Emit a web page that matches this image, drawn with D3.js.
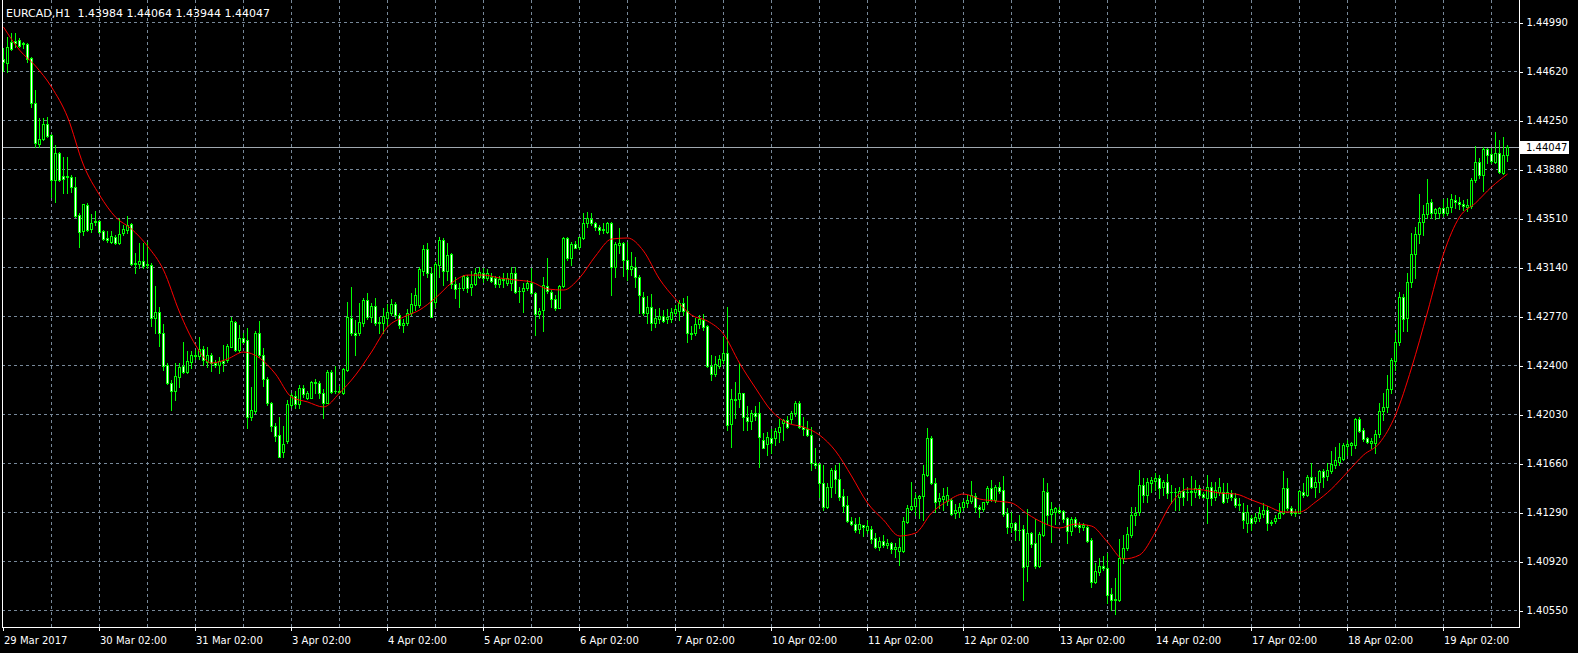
<!DOCTYPE html>
<html><head><meta charset="utf-8">
<script src="https://cdn.jsdelivr.net/npm/d3@7"></script>
<style>html,body{margin:0;padding:0;background:#000;overflow:hidden}svg{display:block}</style>
</head><body><svg id="c" width="1578" height="653"></svg>
<script>
const symbolTitle = "EURCAD,H1";
const openP = [
1.44710,1.44680,1.44839,1.44846,1.44854,1.44824,1.44824,1.44718,1.44378,1.44069,
1.44106,1.44220,1.44137,1.43797,1.44001,1.43827,1.43819,1.43819,1.43744,1.43533,
1.43412,1.43608,1.43427,1.43480,1.43487,1.43412,1.43359,1.43329,1.43366,1.43321,
1.43397,1.43419,1.43465,1.43162,1.43162,1.43185,1.43162,1.43155,1.42755,1.42800,
1.42642,1.42400,1.42264,1.42204,1.42309,1.42392,1.42347,1.42423,1.42475,1.42468,
1.42521,1.42423,1.42475,1.42415,1.42400,1.42430,1.42438,1.42536,1.42725,1.42513,
1.42604,1.42589,1.42007,1.42053,1.42642,1.42475,1.42294,1.42113,1.41939,1.41871,
1.41743,1.41826,1.42098,1.42166,1.42105,1.42226,1.42151,1.42151,1.42272,1.42264,
1.42188,1.42113,1.42347,1.42204,1.42204,1.42188,1.42362,1.42755,1.42642,1.42642,
1.42717,1.42891,1.42762,1.42845,1.42717,1.42717,1.42755,1.42793,1.42861,1.42777,
1.42702,1.42717,1.42793,1.42853,1.42853,1.43110,1.43276,1.43095,1.42876,1.43155,
1.43344,1.43110,1.43238,1.43012,1.42981,1.42981,1.43064,1.42989,1.43012,1.43064,
1.43095,1.43057,1.43064,1.43057,1.43012,1.43049,1.43019,1.43019,1.43095,1.42959,
1.42959,1.42981,1.43019,1.42944,1.42785,1.42815,1.42996,1.42951,1.42898,1.42830,
1.42996,1.43359,1.43208,1.43314,1.43291,1.43359,1.43472,1.43502,1.43472,1.43442,
1.43419,1.43404,1.43472,1.43140,1.43306,1.43321,1.43193,1.43125,1.43140,1.43064,
1.42913,1.42793,1.42838,1.42717,1.42747,1.42770,1.42747,1.42747,1.42793,1.42808,
1.42868,1.42808,1.42642,1.42642,1.42710,1.42740,1.42694,1.42392,1.42332,1.42392,
1.42438,1.42491,1.41954,1.42143,1.42143,1.42188,1.42007,1.41977,1.42037,1.42037,
1.41834,1.41803,1.41849,1.41849,1.41894,1.41962,1.41985,1.41992,1.42037,1.42113,
1.41932,1.41917,1.41871,1.41660,1.41652,1.41509,1.41328,1.41479,1.41607,1.41539,
1.41411,1.41343,1.41222,1.41199,1.41162,1.41192,1.41154,1.41162,1.41094,1.41026,
1.41071,1.41041,1.41056,1.41011,1.40995,1.40995,1.41214,1.41313,1.41335,1.41396,
1.41411,1.41569,1.41849,1.41509,1.41373,1.41388,1.41373,1.41381,1.41282,1.41290,
1.41328,1.41358,1.41373,1.41411,1.41328,1.41313,1.41365,1.41471,1.41381,1.41479,
1.41456,1.41282,1.41177,1.41207,1.41154,1.41162,1.40882,1.41131,1.41056,1.40882,
1.41116,1.41441,1.41275,1.41290,1.41305,1.41297,1.41245,1.41146,1.41237,1.41192,
1.41177,1.41177,1.41079,1.40761,1.40837,1.40882,1.40867,1.40671,1.40625,1.40625,
1.40943,1.41018,1.41116,1.41267,1.41290,1.41494,1.41418,1.41509,1.41524,1.41547,
1.41479,1.41516,1.41441,1.41441,1.41403,1.41448,1.41441,1.41441,1.41441,1.41471,
1.41426,1.41396,1.41479,1.41403,1.41441,1.41441,1.41396,1.41433,1.41396,1.41350,
1.41290,1.41207,1.41245,1.41222,1.41245,1.41275,1.41305,1.41214,1.41222,1.41245,
1.41282,1.41471,1.41320,1.41282,1.41282,1.41441,1.41418,1.41554,1.41479,1.41516,
1.41599,1.41562,1.41599,1.41645,1.41667,1.41690,1.41788,1.41796,1.41796,1.41992,
1.41909,1.41849,1.41811,1.41811,1.41879,1.42053,1.42083,1.42219,1.42430,1.42574,
1.42913,1.42755,1.43027,1.43238,1.43389,1.43480,1.43540,1.43631,1.43548,1.43548,
1.43585,1.43548,1.43593,1.43646,1.43631,1.43616,1.43593,1.43600,1.43797,1.43933,
1.43835,1.44031,1.43993,1.43933,1.44001,1.43850,1.43984
];
const highP = [
1.44794,1.44877,1.44907,1.44907,1.44869,1.44839,1.44831,1.44726,1.44476,1.44265,
1.44265,1.44273,1.44144,1.44061,1.44008,1.43971,1.43971,1.43835,1.43819,1.43548,
1.43616,1.43623,1.43540,1.43563,1.43495,1.43419,1.43412,1.43412,1.43382,1.43510,
1.43457,1.43525,1.43472,1.43246,1.43321,1.43321,1.43329,1.43170,1.42996,1.42838,
1.42710,1.42415,1.42287,1.42415,1.42415,1.42574,1.42506,1.42506,1.42513,1.42611,
1.42543,1.42536,1.42491,1.42438,1.42460,1.42551,1.42559,1.42762,1.42732,1.42702,
1.42642,1.42679,1.42234,1.42657,1.42732,1.42528,1.42309,1.42121,1.41962,1.42007,
1.41939,1.42136,1.42188,1.42204,1.42249,1.42249,1.42204,1.42279,1.42294,1.42279,
1.42219,1.42362,1.42362,1.42392,1.42241,1.42377,1.42876,1.42989,1.42740,1.42868,
1.42906,1.42944,1.42868,1.42906,1.42762,1.42830,1.42861,1.42898,1.42876,1.42793,
1.42747,1.42823,1.42944,1.42981,1.43140,1.43306,1.43321,1.43140,1.43178,1.43366,
1.43359,1.43321,1.43246,1.43064,1.43019,1.43079,1.43079,1.43110,1.43132,1.43140,
1.43132,1.43125,1.43095,1.43072,1.43072,1.43095,1.43095,1.43140,1.43140,1.42989,
1.43019,1.43042,1.43132,1.42951,1.42830,1.43064,1.43208,1.42966,1.42928,1.43004,
1.43366,1.43366,1.43329,1.43336,1.43366,1.43548,1.43555,1.43548,1.43480,1.43457,
1.43472,1.43480,1.43480,1.43329,1.43434,1.43329,1.43329,1.43253,1.43215,1.43079,
1.42951,1.42921,1.42936,1.42823,1.42830,1.42815,1.42823,1.42830,1.42853,1.42891,
1.42906,1.42921,1.42694,1.42755,1.42777,1.42785,1.42702,1.42475,1.42468,1.42475,
1.42611,1.42838,1.42219,1.42272,1.42415,1.42188,1.42090,1.42060,1.42090,1.42121,
1.41886,1.41894,1.41917,1.41924,1.41992,1.41992,1.42015,1.42053,1.42128,1.42128,
1.42007,1.41977,1.41932,1.41773,1.41660,1.41645,1.41509,1.41622,1.41645,1.41660,
1.41464,1.41411,1.41252,1.41245,1.41252,1.41192,1.41230,1.41184,1.41131,1.41101,
1.41116,1.41086,1.41063,1.41056,1.41094,1.41252,1.41343,1.41516,1.41433,1.41418,
1.41645,1.41924,1.41864,1.41547,1.41433,1.41471,1.41479,1.41396,1.41350,1.41358,
1.41381,1.41418,1.41524,1.41433,1.41343,1.41365,1.41486,1.41532,1.41494,1.41516,
1.41562,1.41320,1.41290,1.41214,1.41267,1.41192,1.41313,1.41139,1.41237,1.41139,
1.41547,1.41509,1.41365,1.41328,1.41328,1.41305,1.41252,1.41252,1.41252,1.41214,
1.41207,1.41192,1.41094,1.40905,1.40943,1.40958,1.40980,1.40716,1.40792,1.41086,
1.41116,1.41177,1.41328,1.41328,1.41607,1.41547,1.41547,1.41554,1.41584,1.41569,
1.41532,1.41577,1.41494,1.41471,1.41479,1.41547,1.41479,1.41562,1.41532,1.41494,
1.41441,1.41569,1.41516,1.41516,1.41547,1.41509,1.41509,1.41456,1.41433,1.41396,
1.41358,1.41343,1.41267,1.41282,1.41328,1.41358,1.41335,1.41230,1.41267,1.41358,
1.41599,1.41547,1.41335,1.41313,1.41456,1.41509,1.41569,1.41660,1.41554,1.41607,
1.41615,1.41660,1.41751,1.41781,1.41811,1.41811,1.41834,1.41819,1.42000,1.42007,
1.41924,1.41856,1.41849,1.41909,1.42113,1.42188,1.42324,1.42453,1.42642,1.42951,
1.42936,1.43095,1.43397,1.43442,1.43691,1.43608,1.43804,1.43653,1.43585,1.43593,
1.43653,1.43661,1.43691,1.43684,1.43668,1.43646,1.43653,1.43812,1.44054,1.43963,
1.44046,1.44038,1.44038,1.44159,1.44099,1.44122,1.44064
];
const lowP = [
1.44620,1.44612,1.44778,1.44801,1.44801,1.44794,1.44688,1.44348,1.44046,1.44046,
1.44099,1.44122,1.43668,1.43631,1.43789,1.43699,1.43699,1.43706,1.43517,1.43291,
1.43382,1.43412,1.43404,1.43457,1.43397,1.43344,1.43329,1.43321,1.43314,1.43314,
1.43382,1.43397,1.43155,1.43095,1.43132,1.43132,1.43132,1.42694,1.42642,1.42543,
1.42362,1.42256,1.42060,1.42136,1.42234,1.42339,1.42339,1.42377,1.42445,1.42445,
1.42400,1.42385,1.42355,1.42385,1.42339,1.42355,1.42423,1.42536,1.42506,1.42498,
1.42566,1.41924,1.41985,1.42037,1.42460,1.42241,1.42098,1.41902,1.41826,1.41705,
1.41705,1.41811,1.42083,1.42075,1.42075,1.42158,1.42143,1.42151,1.42188,1.42151,
1.42000,1.42113,1.42188,1.42188,1.42188,1.42181,1.42355,1.42626,1.42475,1.42626,
1.42694,1.42747,1.42725,1.42702,1.42642,1.42642,1.42702,1.42777,1.42755,1.42679,
1.42649,1.42702,1.42777,1.42815,1.42838,1.43079,1.43064,1.42762,1.42838,1.43064,
1.43004,1.43042,1.42981,1.42906,1.42838,1.42966,1.42951,1.42928,1.43004,1.43057,
1.43027,1.43042,1.43027,1.42989,1.42989,1.42989,1.43004,1.42966,1.42944,1.42876,
1.42800,1.42966,1.42936,1.42626,1.42755,1.42657,1.42944,1.42838,1.42815,1.42830,
1.42989,1.43193,1.43155,1.43283,1.43276,1.43351,1.43442,1.43457,1.43419,1.43389,
1.43397,1.43397,1.42928,1.43064,1.43246,1.43072,1.43042,1.43079,1.42989,1.42793,
1.42777,1.42717,1.42664,1.42687,1.42717,1.42725,1.42717,1.42725,1.42777,1.42740,
1.42777,1.42574,1.42596,1.42626,1.42679,1.42664,1.42385,1.42287,1.42317,1.42377,
1.42415,1.41909,1.41781,1.42000,1.42083,1.41909,1.41909,1.41917,1.41985,1.41630,
1.41773,1.41720,1.41735,1.41796,1.41819,1.41834,1.41924,1.41962,1.42015,1.41924,
1.41871,1.41864,1.41607,1.41622,1.41403,1.41305,1.41320,1.41403,1.41433,1.41381,
1.41290,1.41214,1.41192,1.41139,1.41131,1.41109,1.41131,1.41056,1.41018,1.41003,
1.41026,1.41018,1.40980,1.40950,1.40890,1.40988,1.41207,1.41305,1.41267,1.41245,
1.41230,1.41562,1.41501,1.41290,1.41320,1.41305,1.41343,1.41267,1.41245,1.41252,
1.41305,1.41328,1.41358,1.41290,1.41252,1.41297,1.41350,1.41373,1.41365,1.41433,
1.41260,1.41131,1.41139,1.41079,1.41079,1.40625,1.40769,1.41026,1.40867,1.40875,
1.41109,1.41199,1.41063,1.41199,1.41282,1.41214,1.41056,1.41116,1.41177,1.41139,
1.41154,1.41063,1.40724,1.40754,1.40814,1.40852,1.40603,1.40550,1.40520,1.40618,
1.40905,1.41003,1.41101,1.41192,1.41267,1.41365,1.41365,1.41441,1.41456,1.41396,
1.41418,1.41396,1.41358,1.41305,1.41305,1.41343,1.41381,1.41343,1.41403,1.41396,
1.41396,1.41207,1.41343,1.41381,1.41418,1.41358,1.41365,1.41381,1.41328,1.41305,
1.41169,1.41139,1.41154,1.41207,1.41222,1.41252,1.41154,1.41192,1.41207,1.41245,
1.41275,1.41305,1.41267,1.41260,1.41282,1.41403,1.41411,1.41471,1.41403,1.41441,
1.41479,1.41532,1.41584,1.41622,1.41645,1.41683,1.41720,1.41720,1.41773,1.41894,
1.41826,1.41811,1.41773,1.41735,1.41856,1.41985,1.42045,1.42188,1.42362,1.42551,
1.42657,1.42657,1.42989,1.43057,1.43321,1.43382,1.43510,1.43510,1.43502,1.43510,
1.43525,1.43533,1.43555,1.43585,1.43578,1.43570,1.43563,1.43585,1.43782,1.43812,
1.43714,1.43925,1.43925,1.43925,1.43850,1.43842,1.43944
];
const closeP = [
1.44688,1.44801,1.44786,1.44831,1.44809,1.44831,1.44710,1.44378,1.44076,1.44106,
1.44220,1.44129,1.43797,1.44001,1.43797,1.43804,1.43827,1.43744,1.43525,1.43404,
1.43616,1.43419,1.43472,1.43487,1.43404,1.43351,1.43344,1.43374,1.43321,1.43389,
1.43427,1.43457,1.43162,1.43170,1.43185,1.43147,1.43155,1.42755,1.42800,1.42642,
1.42392,1.42264,1.42204,1.42317,1.42385,1.42347,1.42430,1.42475,1.42468,1.42521,
1.42438,1.42475,1.42415,1.42400,1.42430,1.42415,1.42543,1.42732,1.42513,1.42604,
1.42574,1.42007,1.42060,1.42642,1.42475,1.42294,1.42113,1.41939,1.41864,1.41705,
1.41803,1.42105,1.42173,1.42105,1.42226,1.42181,1.42188,1.42272,1.42264,1.42188,
1.42113,1.42347,1.42196,1.42204,1.42196,1.42370,1.42762,1.42642,1.42626,1.42725,
1.42891,1.42762,1.42845,1.42717,1.42725,1.42770,1.42800,1.42861,1.42777,1.42702,
1.42717,1.42793,1.42861,1.42928,1.43125,1.43276,1.43095,1.42762,1.43162,1.43344,
1.43110,1.43231,1.43012,1.42974,1.42981,1.43072,1.42981,1.43012,1.43095,1.43102,
1.43057,1.43095,1.43034,1.43012,1.43049,1.43042,1.43057,1.43095,1.42951,1.42959,
1.42981,1.43019,1.42944,1.42785,1.42808,1.43004,1.42959,1.42898,1.42830,1.42996,
1.43359,1.43208,1.43314,1.43283,1.43366,1.43472,1.43510,1.43472,1.43442,1.43419,
1.43427,1.43472,1.43140,1.43314,1.43321,1.43193,1.43125,1.43147,1.43064,1.42928,
1.42793,1.42838,1.42717,1.42755,1.42770,1.42732,1.42762,1.42800,1.42823,1.42868,
1.42808,1.42642,1.42634,1.42710,1.42747,1.42687,1.42392,1.42332,1.42407,1.42445,
1.42491,1.41947,1.42143,1.42136,1.42188,1.42007,1.41977,1.42037,1.42015,1.41856,
1.41773,1.41856,1.41811,1.41902,1.41932,1.41985,1.41932,1.42037,1.42113,1.41932,
1.41917,1.41871,1.41660,1.41645,1.41509,1.41328,1.41479,1.41607,1.41539,1.41403,
1.41335,1.41222,1.41199,1.41154,1.41199,1.41177,1.41184,1.41086,1.41026,1.41071,
1.41041,1.41056,1.41011,1.41026,1.41026,1.41222,1.41320,1.41335,1.41396,1.41411,
1.41577,1.41849,1.41509,1.41365,1.41396,1.41411,1.41418,1.41275,1.41305,1.41328,
1.41365,1.41381,1.41418,1.41328,1.41313,1.41365,1.41471,1.41388,1.41479,1.41448,
1.41275,1.41177,1.41207,1.41154,1.41154,1.40875,1.41131,1.41048,1.40882,1.41124,
1.41448,1.41267,1.41313,1.41320,1.41290,1.41237,1.41146,1.41237,1.41184,1.41177,
1.41192,1.41071,1.40761,1.40844,1.40882,1.40867,1.40663,1.40625,1.40633,1.40943,
1.41018,1.41124,1.41267,1.41282,1.41494,1.41418,1.41516,1.41532,1.41547,1.41471,
1.41516,1.41433,1.41441,1.41441,1.41448,1.41403,1.41441,1.41448,1.41471,1.41418,
1.41403,1.41479,1.41396,1.41456,1.41479,1.41365,1.41441,1.41403,1.41343,1.41343,
1.41230,1.41290,1.41207,1.41252,1.41282,1.41305,1.41207,1.41207,1.41245,1.41282,
1.41471,1.41320,1.41282,1.41290,1.41448,1.41418,1.41554,1.41479,1.41516,1.41599,
1.41554,1.41607,1.41652,1.41683,1.41705,1.41796,1.41803,1.41811,1.41992,1.41902,
1.41841,1.41819,1.41826,1.41879,1.42053,1.42083,1.42219,1.42438,1.42574,1.42913,
1.42747,1.43027,1.43238,1.43389,1.43480,1.43540,1.43623,1.43548,1.43578,1.43585,
1.43548,1.43593,1.43653,1.43631,1.43616,1.43600,1.43608,1.43797,1.43933,1.43835,
1.44031,1.43986,1.43940,1.44001,1.43857,1.43984,1.44047
];
// moving average read every 4 bars
const maStep = 4;
const maValues = [
1.44952,1.44778,1.44658,1.44499,1.44273,1.43910,1.43684,1.43517,1.43427,1.43298,
1.43117,1.42800,1.42551,1.42415,1.42445,1.42498,1.42453,1.42332,1.42158,1.42121,
1.42083,1.42188,1.42324,1.42498,1.42687,1.42762,1.42815,1.42906,1.43019,1.43079,
1.43079,1.43057,1.43042,1.43027,1.42974,1.42966,1.43057,1.43223,1.43351,1.43359,
1.43261,1.43049,1.42898,1.42777,1.42732,1.42634,1.42415,1.42226,1.42053,1.41962,
1.41932,1.41871,1.41751,1.41562,1.41358,1.41230,1.41109,1.41131,1.41282,1.41373,
1.41426,1.41388,1.41373,1.41358,1.41275,1.41207,1.41169,1.41199,1.41184,1.41063,
1.40935,1.40965,1.41139,1.41358,1.41464,1.41456,1.41433,1.41426,1.41381,1.41335,
1.41290,1.41290,1.41365,1.41464,1.41592,1.41720,1.41811,1.42022,1.42377,1.42800,
1.43238,1.43517,1.43623,1.43744,1.43842
];
const priceTicks = [1.44990,1.44620,1.44250,1.43880,1.43510,1.43140,1.42770,1.42400,1.42030,1.41660,1.41290,1.40920,1.40550];
const dateLabels = ["29 Mar 2017","30 Mar 02:00","31 Mar 02:00","3 Apr 02:00","4 Apr 02:00","5 Apr 02:00","6 Apr 02:00","7 Apr 02:00","10 Apr 02:00","11 Apr 02:00","12 Apr 02:00","13 Apr 02:00","14 Apr 02:00","17 Apr 02:00","18 Apr 02:00","19 Apr 02:00"];
const barsPerLabel = 24;
const gridEvery = 12;

const W = 1578, H = 653;
const frame = {left: 2, right: 1519, top: 0, bottom: 627};
const n = closeP.length;
const bidPrice = closeP[n - 1];

const svg = d3.select("#c").attr("shape-rendering", "crispEdges");
svg.append("rect").attr("width", W).attr("height", H).attr("fill", "#000");

const x = d3.scaleLinear().domain([0, n - 1]).range([3.5, 3.5 + 4 * (n - 1)]);
const y = d3.scaleLinear().domain([1.40550, 1.44990]).range([610, 22]);
const py = v => Math.round(y(v));

const gridColor = "#778899";
const g = svg.append("g");

// horizontal grid
g.selectAll("line.hg").data(priceTicks).join("line")
  .attr("x1", frame.left).attr("x2", frame.right)
  .attr("y1", d => py(d) + 0.5).attr("y2", d => py(d) + 0.5)
  .attr("stroke", gridColor).attr("stroke-dasharray", "3,3");
// vertical grid
const vIdx = d3.range(gridEvery, n, gridEvery);
g.selectAll("line.vg").data(vIdx).join("line")
  .attr("x1", d => x(d)).attr("x2", d => x(d))
  .attr("y1", frame.top).attr("y2", frame.bottom)
  .attr("stroke", gridColor).attr("stroke-dasharray", "3,3");

// bid line
g.append("line").attr("x1", frame.left).attr("x2", frame.right)
  .attr("y1", py(bidPrice) + 0.5).attr("y2", py(bidPrice) + 0.5)
  .attr("stroke", "#a0a8b0");

// candles
const bars = d3.range(n).map(i => ({i, o: openP[i], h: highP[i], l: lowP[i], c: closeP[i]}));
const cg = svg.append("g");
cg.selectAll("line.wick").data(bars).join("line")
  .attr("x1", d => x(d.i)).attr("x2", d => x(d.i))
  .attr("y1", d => py(d.h)).attr("y2", d => py(d.l) + 1)
  .attr("stroke", "#00ff00");
bars.forEach(d => {
  const top = py(Math.max(d.o, d.c)), bot = py(Math.min(d.o, d.c));
  const bear = d.c < d.o;
  if (bot - top < 1) {
    cg.append("line").attr("x1", x(d.i) - 1.5).attr("x2", x(d.i) + 1.5)
      .attr("y1", top + 0.5).attr("y2", top + 0.5).attr("stroke", "#00ff00");
  } else {
    cg.append("rect").attr("x", x(d.i) - 1).attr("y", top + 0.5)
      .attr("width", 2).attr("height", bot - top)
      .attr("fill", bear ? "#ffffff" : "#000000").attr("stroke", "#00ff00");
  }
});

// moving average
const maData = maValues.map((v, j) => ({i: j * maStep, v}));
svg.append("path").datum(maData)
  .attr("d", d3.line().x(d => x(d.i)).y(d => y(d.v)).curve(d3.curveMonotoneX))
  .attr("fill", "none").attr("stroke", "#ff0000").attr("stroke-width", 1)
  .attr("shape-rendering", "auto");

// frame
svg.append("path")
  .attr("d", `M${frame.left + 0.5},${frame.top}V${frame.bottom + 0.5}H${frame.right + 0.5}V${frame.top}`)
  .attr("fill", "none").attr("stroke", "#ffffff");

// right axis
const ay = svg.append("g").attr("transform", `translate(${frame.right + 0.5},0.5)`)
  .call(d3.axisRight(y).tickValues(priceTicks).tickFormat(d3.format(".5f")).tickSize(3).tickPadding(4));
ay.select(".domain").remove();
ay.selectAll("line").attr("stroke", "#ffffff");
ay.selectAll("text").attr("fill", "#ffffff").attr("font-family", "DejaVu Sans").attr("font-size", 10);

// bid label
const bidY = py(bidPrice);
svg.append("rect").attr("x", frame.right + 1).attr("y", bidY - 6).attr("width", 49).attr("height", 13).attr("fill", "#ffffff");
svg.append("text").attr("x", frame.right + 7).attr("y", bidY + 4)
  .attr("fill", "#000").attr("font-family", "DejaVu Sans").attr("font-size", 10)
  .text(d3.format(".5f")(bidPrice));

// bottom axis
const labIdx = dateLabels.map((_, k) => k * barsPerLabel);
const ax = svg.append("g").attr("transform", `translate(-0.5,${frame.bottom + 0.5})`)
  .call(d3.axisBottom(x).tickValues(labIdx).tickFormat((d, k) => dateLabels[k]).tickSize(3).tickPadding(6));
ax.select(".domain").remove();
ax.selectAll("line").attr("stroke", "#ffffff");
ax.selectAll("text").attr("fill", "#ffffff").attr("font-family", "DejaVu Sans").attr("font-size", 10)
  .attr("text-anchor", "start").attr("dx", "0.5");

// title
svg.append("text").attr("x", 6).attr("y", 17)
  .attr("fill", "#ffffff").attr("font-family", "DejaVu Sans").attr("font-size", 11)
  .style("white-space", "pre")
  .text(`${symbolTitle}  ${d3.format(".5f")(openP[n-1])} ${d3.format(".5f")(highP[n-1])} ${d3.format(".5f")(lowP[n-1])} ${d3.format(".5f")(closeP[n-1])}`);
</script>
</body></html>
